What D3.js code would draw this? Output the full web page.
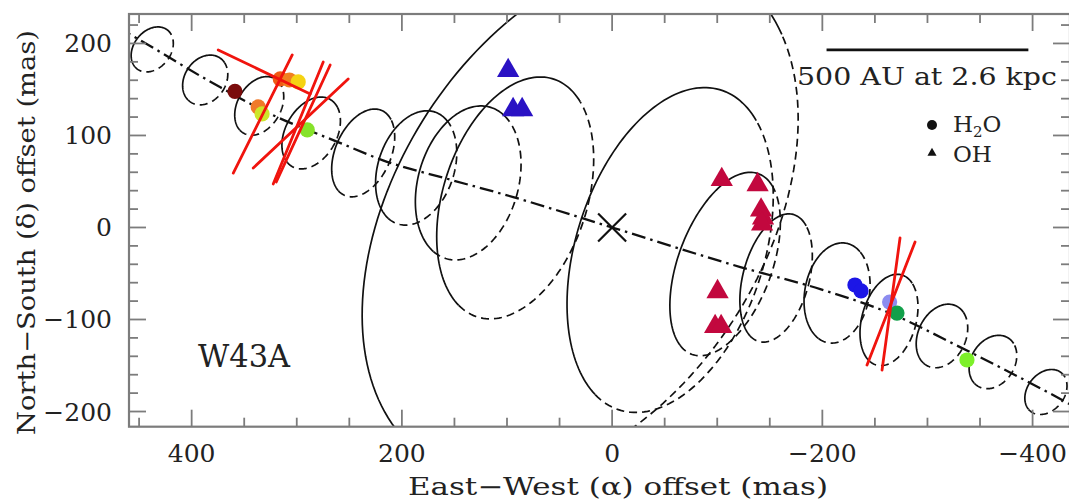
<!DOCTYPE html>
<html><head><meta charset="utf-8">
<script src="https://cdn.jsdelivr.net/npm/d3@7"></script>
<style>body{margin:0;background:#fff;} svg{display:block;}</style>
</head><body>
<svg id="chart" width="1069" height="502"></svg>
<script>
// ---------------- DATA (mas) ----------------
const xTickLabels = [400, 200, 0, -200, -400];
const yTickLabels = [200, 100, 0, -100, -200];

// jet axis (dash-dot curve)
const axisX = [470, 462, 380, 328, 259, 218, 154, 94, 0, -122, -198, -264, -331, -429, -445];
const axisY = [217, 212, 157, 125, 92, 73, 52, 33, 0, -43, -67, -93, -130, -188, -198];

// rings along the jet: centre, semi-major, semi-minor (mas), tilt (deg)
const ringCX = [437.5, 387.1, 335.7, 286.3, 236.8, 186.4, 136.9, 92.2, 30.4, -55.2, -107.5, -156, -214, -263.4, -313.8, -362.3, -412.7];
const ringCY = [193.5, 160.3, 132.1, 102.7, 81, 64.7, 48.4, 32.1, 11.4, -24.5, -39.7, -54.9, -71.2, -100.5, -117.9, -146.2, -178.8];
const ringA  = [25.8, 28, 33.3, 40.9, 49.5, 63.4, 85, 134.4, 301, 180.6, 103.2, 71, 54.8, 50.5, 35.5, 30.1, 25.8];
const ringB  = [18.3, 20.2, 21.2, 25, 26.9, 36.5, 48, 69.2, 181, 90.4, 45.2, 31.7, 30.8, 26, 23.1, 21.2, 18.3];
const ringTilt = [26.8, 22.2, 22.2, 22.2, 18.6, 14.1, 12.3, 14.1, 24.9, 14.1, 16.8, 12.3, 7.9, 12.3, 17.7, 22.2, 26.8];

// H2O maser spots
const h2oX = [358.8, 315.7, 307, 298.6, 336.7, 333, 290, -231, -236.8, -264, -271, -337.6];
const h2oY = [148, 161.4, 160.3, 158.2, 131, 123.4, 106, -62.5, -69, -81, -93, -144];

// OH maser spots
const ohBlueX = [98.9, 94.2, 85.6];
const ohBlueY = [170.4, 128, 128];
const ohRedX = [-104.3, -138.4, -141.7, -143.6, -142.7, -100.3, -98, -103.7];
const ohRedY = [52, 46.5, 19, 10.3, 3.8, -69.8, -107.8, -107.8];

// polarization vectors (red segments)
const vecX1 = [374.7, 360.4, 322.4, 319.5, 341.4, -242.5, -256.8];
const vecY1 = [192.9, 59.2, 47.3, 49.5, 64.7, -149.5, -154.9];
const vecX2 = [287.2, 304.3, 274.8, 268.2, 251.1, -288.2, -273.9];
const vecY2 = [145.1, 187.5, 179.9, 176.6, 161.4, -15.8, -11.4];

// scale bar: 500 AU at 2.6 kpc = 192 mas
const scaleBarStart = -204, scaleBarLen = 192, scaleBarY = 193;

// ---------------- STYLE ----------------
const h2oColors = ['#7a0c0c','#f05a14','#f08020','#f5d312','#f07a2a','#cde62a','#86e22a','#1c16e6','#1c16e6','#8c8cf0','#12a04a','#7df02a'];
const ohBlue = '#2a12c4', ohRed = '#c2083e';
const FONT = "'DejaVu Serif', serif";
const axisGrey = '#7c7c7c';

// ---------------- SCALES ----------------
const L = 129, R = 1070, T = 14, B = 426.7;
const x = d3.scaleLinear().domain([459.6, -435.6]).range([L, R]);
const y = d3.scaleLinear().domain([-216.5, 232]).range([B, T]);

const svg = d3.select('#chart');
svg.append('rect').attr('width',1069).attr('height',502).attr('fill','#fff');

svg.append('clipPath').attr('id','plotclip').append('rect')
  .attr('x', L).attr('y', T).attr('width', R-L).attr('height', B-T);
const plot = svg.append('g').attr('clip-path','url(#plotclip)');

// rings
const lineGen = d3.line();
ringCX.forEach((cx, i) => {
  const a = ringA[i], b = ringB[i], cy = ringCY[i], th = ringTilt[i]*Math.PI/180;
  const pts = (p0, p1) => d3.range(p0, p1 + 0.5, 2).map(deg => {
    const t = deg*Math.PI/180;
    const du = b*Math.cos(t), dv = a*Math.sin(t);
    const right = du*Math.cos(th) + dv*Math.sin(th);
    const up = -du*Math.sin(th) + dv*Math.cos(th);
    return [x(cx - right), y(cy + up)];
  });
  plot.append('path').attr('d', lineGen(pts(60, 250)))
    .attr('fill','none').attr('stroke','#111').attr('stroke-width',1.7);
  plot.append('path').attr('d', lineGen(pts(250, 420)))
    .attr('fill','none').attr('stroke','#111').attr('stroke-width',1.7)
    .attr('stroke-dasharray','8,5');
});

// jet axis
plot.append('path')
  .attr('d', d3.line().curve(d3.curveMonotoneX)(axisX.map((v,i)=>[x(v), y(axisY[i])])))
  .attr('fill','none').attr('stroke','#111').attr('stroke-width',2.3)
  .attr('stroke-dasharray','14,5,2.5,5');

// X marker at origin
const ox = x(0), oy = y(0), s = 14;
plot.append('path').attr('d', `M${ox-s},${oy-s}L${ox+s},${oy+s}M${ox-s},${oy+s}L${ox+s},${oy-s}`)
  .attr('stroke','#111').attr('stroke-width',2.2);

// H2O circles
h2oX.forEach((v,i)=>{
  plot.append('circle').attr('cx', x(v)).attr('cy', y(h2oY[i])).attr('r', 7.6)
    .attr('fill', h2oColors[i]);
});

// red vectors
vecX1.forEach((v,i)=>{
  plot.append('line').attr('x1', x(v)).attr('y1', y(vecY1[i]))
    .attr('x2', x(vecX2[i])).attr('y2', y(vecY2[i]))
    .attr('stroke','#f0140e').attr('stroke-width',2.8).attr('stroke-linecap','round');
});

// OH triangles
const tri = d3.symbol().type(d3.symbolTriangle).size(215);
ohBlueX.forEach((v,i)=>{
  plot.append('path').attr('d', tri()).attr('transform',`translate(${x(v)},${y(ohBlueY[i])})`).attr('fill', ohBlue);
});
ohRedX.forEach((v,i)=>{
  plot.append('path').attr('d', tri()).attr('transform',`translate(${x(v)},${y(ohRedY[i])})`).attr('fill', ohRed);
});

// scale bar
svg.append('line').attr('x1', x(scaleBarStart)).attr('x2', x(scaleBarStart - scaleBarLen))
  .attr('y1', y(scaleBarY)).attr('y2', y(scaleBarY)).attr('stroke','#111').attr('stroke-width',2.6);
svg.append('text').attr('x', 927).attr('y', 85).attr('text-anchor','middle')
  .attr('font-family', FONT).attr('font-size', 25).attr('fill','#222')
  .attr('textLength', 260).attr('lengthAdjust','spacingAndGlyphs').text('500 AU at 2.6 kpc');

// legend
svg.append('circle').attr('cx', 932).attr('cy', 125).attr('r', 5).attr('fill','#111');
const lt = svg.append('text').attr('x', 953).attr('y', 132).attr('font-family', FONT)
  .attr('font-size', 23).attr('fill','#222');
lt.append('tspan').text('H');
lt.append('tspan').attr('font-size', 15).attr('dy', 5).text('2');
lt.append('tspan').attr('dy', -5).text('O');
svg.append('path').attr('d', d3.symbol().type(d3.symbolTriangle).size(36)())
  .attr('transform','translate(932,153)').attr('fill','#111');
svg.append('text').attr('x', 953).attr('y', 162).attr('font-family', FONT)
  .attr('font-size', 23).attr('fill','#222').text('OH');

// source label
svg.append('text').attr('x', 198).attr('y', 367).attr('font-family', FONT)
  .attr('font-size', 32).attr('fill','#222').attr('textLength', 92)
  .attr('lengthAdjust','spacingAndGlyphs').text('W43A');

// ---------------- AXES ----------------
const ax = svg.append('g').attr('stroke', axisGrey);
ax.append('rect').attr('x', L).attr('y', T).attr('width', R-L).attr('height', B-T)
  .attr('fill','none').attr('stroke-width', 2.2);
d3.range(450, -436, -50).forEach(v => {
  const len = (v % 200 === 0) ? 17 : 9;
  ax.append('line').attr('x1', x(v)).attr('x2', x(v)).attr('y1', B).attr('y2', B-len).attr('stroke-width',1.8);
  ax.append('line').attr('x1', x(v)).attr('x2', x(v)).attr('y1', T).attr('y2', T+len).attr('stroke-width',1.8);
});
d3.range(-200, 232, 20).forEach(v => {
  const len = (v % 100 === 0) ? 17 : 9;
  ax.append('line').attr('y1', y(v)).attr('y2', y(v)).attr('x1', L).attr('x2', L+len).attr('stroke-width',1.8);
  ax.append('line').attr('y1', y(v)).attr('y2', y(v)).attr('x1', R).attr('x2', R-len).attr('stroke-width',1.8);
});
const fmt = v => (v < 0 ? '\u2212' + Math.abs(v) : '' + v);
xTickLabels.forEach(v => {
  svg.append('text').attr('x', x(v)).attr('y', 462).attr('text-anchor','middle')
    .attr('font-family', FONT).attr('font-size', 25).attr('fill','#222').text(fmt(v));
});
yTickLabels.forEach(v => {
  svg.append('text').attr('x', 112).attr('y', y(v) + 9).attr('text-anchor','end')
    .attr('font-family', FONT).attr('font-size', 25).attr('fill','#222').text(fmt(v));
});
svg.append('text').attr('x', 618).attr('y', 495).attr('text-anchor','middle')
  .attr('font-family', FONT).attr('font-size', 24).attr('fill','#222')
  .attr('textLength', 420).attr('lengthAdjust','spacingAndGlyphs')
  .text('East\u2212West (\u03b1) offset (mas)');
svg.append('text').attr('transform','translate(35,232.5) rotate(-90)').attr('text-anchor','middle')
  .attr('font-family', FONT).attr('font-size', 24).attr('fill','#222')
  .attr('textLength', 405).attr('lengthAdjust','spacingAndGlyphs')
  .text('North\u2212South (\u03b4) offset (mas)');
</script>
</body></html>
